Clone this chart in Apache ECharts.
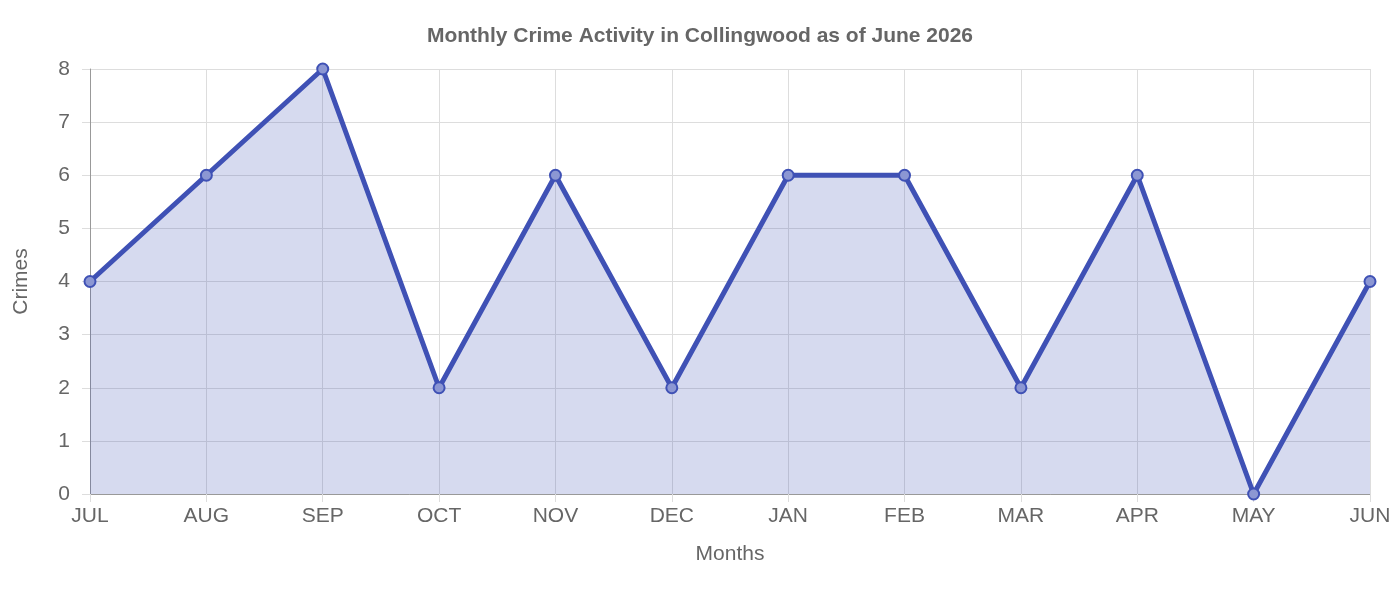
<!DOCTYPE html>
<html><head><meta charset="utf-8">
<script src="https://cdn.jsdelivr.net/npm/echarts@6/dist/echarts.min.js"></script>
<style>html,body{margin:0;padding:0;background:#fff}#c{width:1400px;height:600px}</style>
</head><body><div id="c"></div>
<script>
const months = ['JUL','AUG','SEP','OCT','NOV','DEC','JAN','FEB','MAR','APR','MAY','JUN'];
const crimes = [4,6,8,2,6,2,6,6,2,6,0,4];
const chart = echarts.init(document.getElementById('c'));
const font = 'Liberation Sans, Arial, sans-serif';
chart.setOption({
  animation:false,
  title:{text:'Monthly Crime Activity in Collingwood as of June 2026',left:'center',top:21,
    textStyle:{fontFamily:font,fontSize:21,fontWeight:'bold',color:'#666'}},
  grid:{left:90,right:30,top:69,bottom:106},
  xAxis:{type:'category',data:months,boundaryGap:false,
    name:'Months',nameLocation:'middle',nameGap:50,
    nameTextStyle:{fontFamily:font,fontSize:21,color:'#666'},
    axisLine:{lineStyle:{color:'#999'}},
    axisTick:{show:true,length:8,lineStyle:{color:'#ddd'}},
    axisLabel:{fontFamily:font,fontSize:21,color:'#666',margin:12},
    splitLine:{show:true,lineStyle:{color:'#ddd'}}},
  yAxis:{type:'value',min:0,max:8,interval:1,
    name:'Crimes',nameLocation:'middle',nameGap:58,
    nameTextStyle:{fontFamily:font,fontSize:21,color:'#666'},
    axisLine:{show:true,lineStyle:{color:'#999'}},
    axisTick:{show:true,length:8,lineStyle:{color:'#ddd'}},
    axisLabel:{fontFamily:font,fontSize:21,color:'#666',margin:20},
    splitLine:{lineStyle:{color:'#ddd'}}},
  series:[{type:'line',data:crimes,symbol:'circle',symbolSize:11,
    lineStyle:{color:'#3f51b5',width:5},
    itemStyle:{color:'#8c97d3',borderColor:'#3f51b5',borderWidth:2},
    areaStyle:{color:'rgba(63,81,181,0.3)'}}]
});
</script></body></html>
